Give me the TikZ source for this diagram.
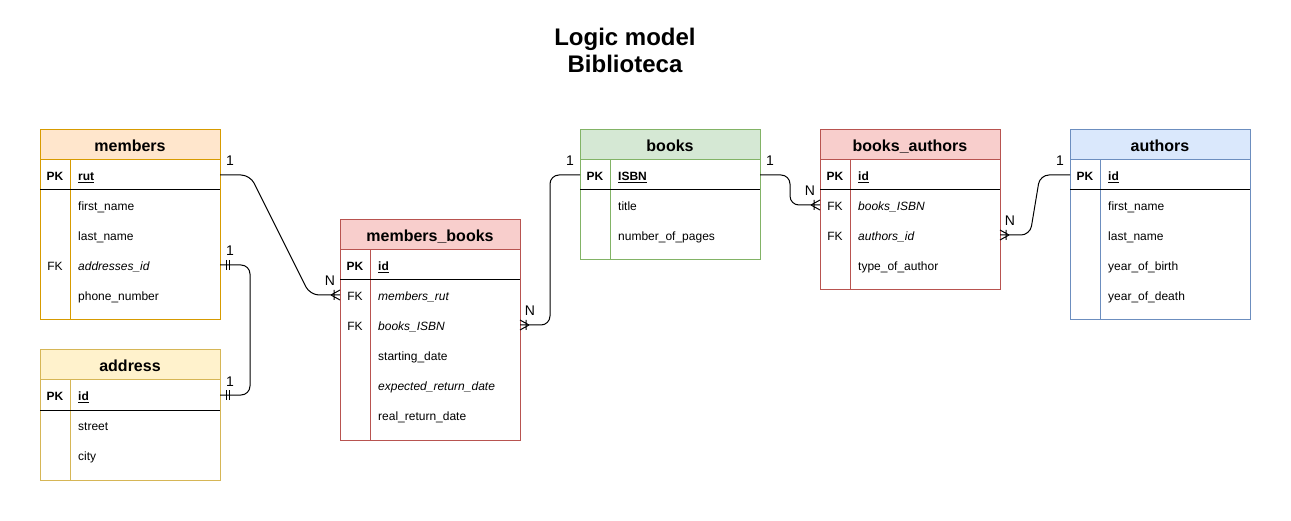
\documentclass[tikz,border=0pt]{standalone}
\usepackage{fontspec}
\setmainfont{Liberation Sans}
\usetikzlibrary{calc}
\definecolor{mf}{HTML}{FFE6CC}\definecolor{md}{HTML}{D79B00}
\definecolor{af}{HTML}{FFF2CC}\definecolor{ad}{HTML}{D6B656}
\definecolor{rf}{HTML}{F8CECC}\definecolor{rd}{HTML}{B85450}
\definecolor{gf}{HTML}{D5E8D4}\definecolor{gd}{HTML}{82B366}
\definecolor{bf}{HTML}{DAE8FC}\definecolor{bd}{HTML}{6C8EBF}
\tikzset{
  tbody/.style={anchor=north west, fill=white, line width=1pt, minimum width=180, inner sep=0, outer sep=0},
  thead/.style={anchor=north west, line width=1pt, minimum width=180, minimum height=30, inner sep=0, outer sep=0,
    font=\fontsize{16}{19}\selectfont\bfseries, text height=13.4, text depth=0},
  fieldt/.style={anchor=west, inner sep=0, font=\fontsize{12}{14}\selectfont, text height=11, text depth=0},
  keyt/.style={anchor=center, inner sep=0, font=\fontsize{12}{14}\selectfont, text height=11, text depth=0},
  ttl/.style={anchor=center, inner sep=0, font=\fontsize{24}{28}\selectfont\bfseries, text height=17.2, text depth=0},
  lbl/.style={anchor=center, inner sep=0, font=\fontsize{14}{16}\selectfont, text height=10, text depth=0},
  conn/.style={line width=1pt, rounded corners=9pt},
  crow/.pic={\draw[line width=1pt] (9,0) -- (0,5) (9,0) -- (0,-5) (6,-5) -- (6,5);},
  dbar/.pic={\draw[line width=1pt] (6,-5) -- (6,5) (9,-5) -- (9,5);},
}
\newcommand\ertab[7]{%
  \node[tbody, draw=#6d, minimum height=#4] (#1) at (#2,#3) {};
  \node[thead, draw=#6d, fill=#6f] (#1-h) at (#2,#3) {#5};
  \draw[line width=1pt, #6d] (#2+30,#3+30) -- (#2+30,#3+#4);
  \draw[line width=1pt] (#2,#3+60) -- (#2+180,#3+60);
  \node[keyt, font=\fontsize{12}{14}\selectfont\bfseries] (#1-pk) at (#2+15,#3+45) {PK};
  \node[fieldt, font=\fontsize{12}{14}\selectfont\bfseries] (#1-pkf) at (#2+38,#3+45) {\underline{#7}};
}
\begin{document}
\begin{tikzpicture}[x=1pt,y=-1pt]
\useasboundingbox (0,0) rectangle (1291,521);
\node[ttl] (t1) at (625,37) {Logic model};
\node[ttl] (t2) at (625,64) {Biblioteca};
% members
\ertab{m}{40}{130}{190}{members}{m}{rut}
\node[fieldt] (m-r1) at (78,205) {first\_name};
\node[fieldt] (m-r2) at (78,235) {last\_name};
\node[keyt] (m-k3) at (55,265) {FK};
\node[fieldt] (m-r3) at (78,265) {\itshape addresses\_id};
\node[fieldt] (m-r4) at (78,295) {phone\_number};
% address
\ertab{a}{40}{350}{130}{address}{a}{id}
\node[fieldt] (a-r1) at (78,425) {street};
\node[fieldt] (a-r2) at (78,455) {city};
% members_books
\ertab{mb}{340}{220}{220}{members\_books}{r}{id}
\node[keyt] (mb-k1) at (355,295) {FK};
\node[fieldt] (mb-r1) at (378,295) {\itshape members\_rut};
\node[keyt] (mb-k2) at (355,325) {FK};
\node[fieldt] (mb-r2) at (378,325) {\itshape books\_ISBN};
\node[fieldt] (mb-r3) at (378,355) {starting\_date};
\node[fieldt] (mb-r4) at (378,385) {\itshape expected\_return\_date};
\node[fieldt] (mb-r5) at (378,415) {real\_return\_date};
% books
\ertab{b}{580}{130}{130}{books}{g}{ISBN}
\node[fieldt] (b-r1) at (618,205) {title};
\node[fieldt] (b-r2) at (618,235) {number\_of\_pages};
% books_authors
\ertab{ba}{820}{130}{160}{books\_authors}{r}{id}
\node[keyt] (ba-k1) at (835,205) {FK};
\node[fieldt] (ba-r1) at (858,205) {\itshape books\_ISBN};
\node[keyt] (ba-k2) at (835,235) {FK};
\node[fieldt] (ba-r2) at (858,235) {\itshape authors\_id};
\node[fieldt] (ba-r3) at (858,265) {type\_of\_author};
% authors
\ertab{au}{1070}{130}{190}{authors}{b}{id}
\node[fieldt] (au-r1) at (1108,205) {first\_name};
\node[fieldt] (au-r2) at (1108,235) {last\_name};
\node[fieldt] (au-r3) at (1108,265) {year\_of\_birth};
\node[fieldt] (au-r4) at (1108,295) {year\_of\_death};
% connectors
\draw[conn] (m.east |- m-pk) -- ++(30,0) -- ($(mb.west |- mb-r1)+(-30,0)$) -- (mb.west |- mb-r1);
\pic[rotate=180] at (mb.west |- mb-r1) {crow};
\draw[conn] (m.east |- m-r3) -- ++(30,0) -- ($(a.east |- a-pk)+(30,0)$) -- (a.east |- a-pk);
\pic at (m.east |- m-r3) {dbar};
\pic at (a.east |- a-pk) {dbar};
\draw[conn] (mb.east |- mb-r2) -- ++(30,0) |- (b.west |- b-pk);
\pic at (mb.east |- mb-r2) {crow};
\draw[conn] (b.east |- b-pk) -- ++(30,0) |- (ba.west |- ba-r1);
\pic[rotate=180] at (ba.west |- ba-r1) {crow};
\draw[conn] (ba.east |- ba-r2) -- ++(30,0) -- ($(au.west |- au-pk)+(-30,0)$) -- (au.west |- au-pk);
\pic at (ba.east |- ba-r2) {crow};
% labels
\node[lbl] (l1) at (230,161) {1};
\node[lbl] (l2) at (330,281) {N};
\node[lbl] (l3) at (230,251) {1};
\node[lbl] (l4) at (230,381) {1};
\node[lbl] (l5) at (530,311) {N};
\node[lbl] (l6) at (570,161) {1};
\node[lbl] (l7) at (770,161) {1};
\node[lbl] (l8) at (810,191) {N};
\node[lbl] (l9) at (1010,221) {N};
\node[lbl] (l10) at (1060,161) {1};
\end{tikzpicture}
\end{document}
